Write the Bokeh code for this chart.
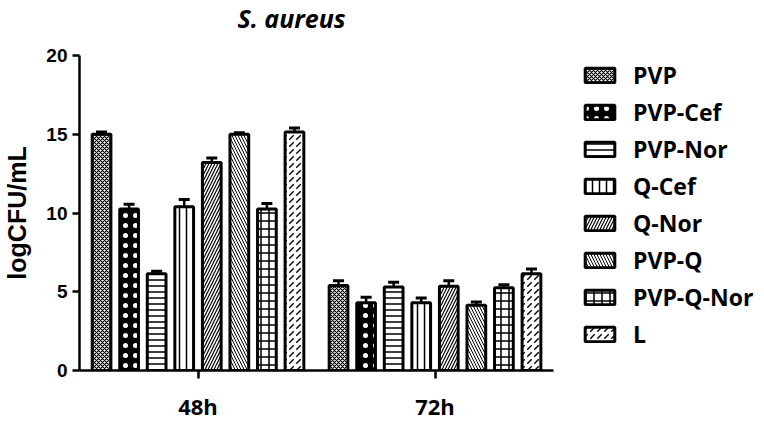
from bokeh.plotting import figure
from bokeh.models import (ColumnDataSource, Whisker, TeeHead, Legend, LegendItem, Range1d,
                          FactorRange, Label)
from bokeh.transform import dodge
from bokeh.embed import file_html
from bokeh.resources import INLINE

times = ["48h", "72h"]
series = ["PVP", "PVP-Cef", "PVP-Nor", "Q-Cef", "Q-Nor", "PVP-Q", "PVP-Q-Nor", "L"]

pvp = [15.0, 5.4]
pvp_cef = [10.25, 4.3]
pvp_nor = [6.15, 5.3]
q_cef = [10.4, 4.3]
q_nor = [13.2, 5.35]
pvp_q = [15.0, 4.15]
pvp_q_nor = [10.25, 5.25]
l_vals = [15.15, 6.15]

pvp_err = [0.15, 0.3]
pvp_cef_err = [0.3, 0.35]
pvp_nor_err = [0.15, 0.3]
q_cef_err = [0.45, 0.3]
q_nor_err = [0.3, 0.35]
pvp_q_err = [0.1, 0.2]
pvp_q_nor_err = [0.35, 0.2]
l_err = [0.25, 0.3]

values = [pvp, pvp_cef, pvp_nor, q_cef, q_nor, pvp_q, pvp_q_nor, l_vals]
errors = [pvp_err, pvp_cef_err, pvp_nor_err, q_cef_err, q_nor_err, pvp_q_err, pvp_q_nor_err, l_err]

y_ticks = [0, 5, 10, 15, 20]

# (fill, hatch pattern, hatch color, scale, weight)
styles = [
    ("white", "diagonal_cross", "black", 4, 1.2),
    ("black", "dot", "white", 10, 5),
    ("white", "horizontal_line", "black", 6, 1.5),
    ("white", "vertical_line", "black", 7, 1.5),
    ("white", "right_diagonal_line", "black", 6, 1.2),
    ("white", "left_diagonal_line", "black", 6, 1.0),
    ("white", "cross", "black", 8, 1.5),
    ("white", "right_diagonal_dash", "black", 7, 1.4),
]

p = figure(frame_width=474, frame_height=315, x_range=FactorRange(*times, range_padding=0),
           y_range=Range1d(0, 20), output_backend="svg", toolbar_location=None, title=None,
           min_border_left=79, min_border_right=0, min_border_top=55, min_border_bottom=51)
p.x_range.factor_padding = 0
p.outline_line_color = None
p.grid.visible = False
p.background_fill_color = "white"

pitch = 0.1163
bw = 0.079
items = []
for i, name in enumerate(series):
    off = (i - 3.5) * pitch
    vals = values[i]
    errs = errors[i]
    src = ColumnDataSource(dict(t=times, top=vals,
                                upper=[v + e for v, e in zip(vals, errs)]))
    f, hp, hc, hs, hw = styles[i]
    r = p.vbar(x=dodge("t", off, range=p.x_range), top="top", bottom=0, width=bw, source=src,
               fill_color=f, hatch_pattern=hp, hatch_color=hc, hatch_scale=hs, hatch_weight=hw,
               line_color="black", line_width=3)
    w = Whisker(base=dodge("t", off, range=p.x_range), lower="top", upper="upper", source=src,
                line_width=2.5, line_color="black",
                upper_head=TeeHead(size=11, line_width=3, line_color="black"), lower_head=None)
    p.add_layout(w)
    items.append(LegendItem(label=name, renderers=[r]))

legend = Legend(items=items, location=(28, 20), orientation="vertical")
legend.glyph_width = 37
legend.glyph_height = 18
legend.label_height = 18
legend.spacing = 5
legend.padding = 0
legend.margin = 0
legend.border_line_color = None
legend.background_fill_alpha = 0
legend.label_standoff = 15
legend.label_text_font = "Open Sans"
legend.label_text_font_style = "bold"
legend.label_text_font_size = "23px"
legend.label_text_color = "black"
p.add_layout(legend, "right")

title = Label(x=158, y=38, x_units="screen", y_units="screen", text="S. aureus",
              text_font="Open Sans", text_font_style="bold italic", text_font_size="25px",
              text_color="black", text_align="left", text_baseline="middle")
p.add_layout(title, "above")

ya = p.yaxis[0]
ya.ticker = y_ticks
ya.axis_label = "logCFU/mL"
ya.axis_label_text_font = "Liberation Sans"
ya.axis_label_text_font_style = "bold"
ya.axis_label_text_font_size = "25px"
ya.axis_label_text_color = "black"
ya.axis_label_standoff = 12
ya.major_label_text_font = "Liberation Sans"
ya.major_label_text_font_style = "bold"
ya.major_label_text_font_size = "19px"
ya.major_label_text_color = "black"
ya.major_tick_out = 7
ya.major_tick_in = 0
ya.minor_tick_line_color = None
ya.axis_line_width = 2.5
ya.major_tick_line_width = 2.5
ya.major_label_standoff = 5

xa = p.xaxis[0]
xa.major_label_text_font = "Open Sans"
xa.major_label_text_font_style = "bold"
xa.major_label_text_font_size = "22px"
xa.major_label_text_color = "black"
xa.major_tick_out = 8
xa.major_tick_in = 0
xa.axis_line_width = 2.5
xa.major_tick_line_width = 2.5
xa.major_label_standoff = 12

open("out.html", "w").write(file_html(p, INLINE))
